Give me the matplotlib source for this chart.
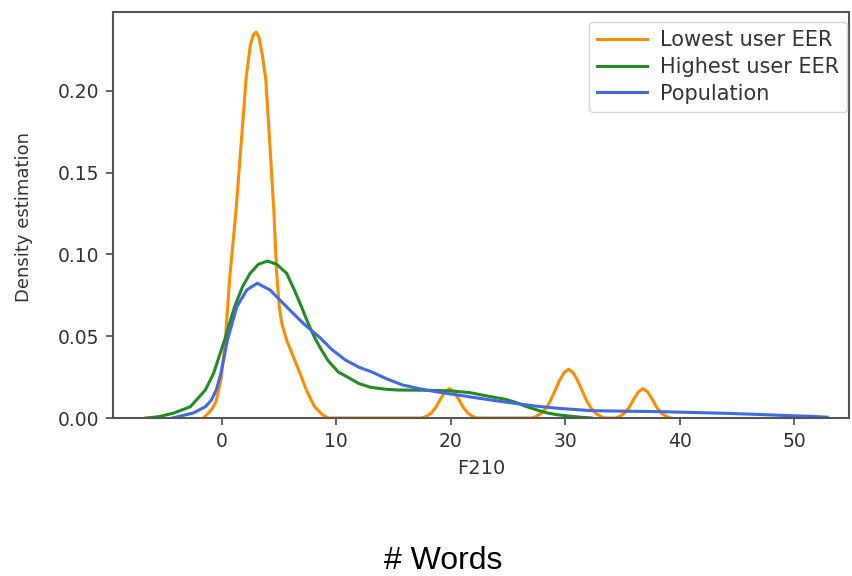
import matplotlib
matplotlib.use("Agg")
import matplotlib.pyplot as plt

# Density curves of feature F210 (number of words)
lowest_x = [-1.6, -1.3, -0.9, -0.5, -0.05, 0.3, 0.7, 1.0, 1.25, 1.7, 2.15, 2.5, 2.75,
            3.0, 3.25, 3.55, 3.85, 4.2, 4.55, 4.8, 5.03, 5.25, 5.67, 6.25, 6.83,
            7.4, 8.1, 8.8, 9.3,
            17.5, 17.9, 18.3, 18.7, 19.1, 19.5, 19.9, 20.3, 20.7, 21.1, 21.5, 21.9, 22.3,
            27.1, 27.5, 27.9, 28.3, 28.7, 29.1, 29.5, 29.9, 30.3, 30.7, 31.1, 31.5,
            31.9, 32.3, 32.7, 33.1, 33.5,
            34.4, 34.8, 35.2, 35.6, 36.0, 36.4, 36.8, 37.2, 37.6, 38.0, 38.4, 38.8, 39.2]
lowest_y = [0.0, 0.002, 0.005, 0.010, 0.024, 0.046, 0.086, 0.108, 0.127, 0.168, 0.209,
            0.228, 0.234, 0.236, 0.233, 0.222, 0.207, 0.168, 0.127, 0.0887, 0.068,
            0.058, 0.0477, 0.0375, 0.0275, 0.017, 0.007, 0.002, 0.0,
            0.0, 0.0011, 0.0030, 0.0065, 0.0115, 0.0160, 0.0180, 0.0160, 0.0115,
            0.0065, 0.0030, 0.0011, 0.0,
            0.0, 0.0010, 0.0028, 0.0057, 0.0103, 0.0165, 0.0228, 0.0277, 0.0298,
            0.0277, 0.0228, 0.0165, 0.0103, 0.0057, 0.0028, 0.0010, 0.0,
            0.0, 0.0011, 0.0030, 0.0065, 0.0115, 0.0160, 0.0180, 0.0160, 0.0115,
            0.0065, 0.0030, 0.0011, 0.0]

highest_x = [-6.6, -5.5, -4.2, -2.74, -1.43, -0.71, 0.25, 1.12, 1.8, 2.48, 3.2, 4.0,
             4.8, 5.67, 6.3, 6.97, 7.6, 8.13, 8.6, 9.3, 10.2, 11.0, 12.0, 13.0, 14.4,
             15.5, 17.3, 19.0, 20.2, 21.7, 23.0, 24.8, 25.7, 26.5, 27.4, 28.3, 29.3,
             30.3, 31.3, 32.3]
highest_y = [0.0, 0.0008, 0.003, 0.0069, 0.0171, 0.0273, 0.0477, 0.068, 0.080, 0.0885,
             0.094, 0.096, 0.094, 0.0885, 0.079, 0.068, 0.057, 0.049, 0.043, 0.035,
             0.028, 0.025, 0.021, 0.0188, 0.0175, 0.0171, 0.0170, 0.0168, 0.0165,
             0.0155, 0.0137, 0.0114, 0.0095, 0.0073, 0.0052, 0.0033, 0.0020, 0.0012,
             0.0005, 0.0]

population_x = [-4.3, -3.6, -2.5, -1.43, -0.9, -0.48, -0.07, 0.5, 1.32, 2.19, 3.1, 4.22,
                5.67, 7.1, 8.6, 9.6, 10.8, 12.0, 13.0, 14.4, 15.8, 17.2, 18.7, 20.2,
                21.6, 24.5, 27.4, 29.4, 32.3, 35.0, 38.1, 41.0, 43.9, 46.8, 49.7, 51.5,
                52.9]
population_y = [0.0, 0.0012, 0.003, 0.0069, 0.011, 0.0171, 0.0273, 0.0477, 0.068,
                0.0783, 0.0824, 0.0783, 0.068, 0.058, 0.049, 0.042, 0.0355, 0.031,
                0.0285, 0.024, 0.0202, 0.018, 0.0161, 0.0145, 0.013, 0.010, 0.0073,
                0.0059, 0.0045, 0.0042, 0.0039, 0.0034, 0.0029, 0.0022, 0.0014,
                0.0010, 0.0005]

series_labels = ["Lowest user EER", "Highest user EER", "Population"]
x_ticks = [0, 10, 20, 30, 40, 50]
y_ticks = [0.00, 0.05, 0.10, 0.15, 0.20]

text_color = "#333333"
spine_color = "#555555"

fig = plt.figure(figsize=(8.52, 5.76), dpi=100)
ax = fig.add_axes([0.1326, 0.2743, 0.8639, 0.7049])

ax.plot(lowest_x, lowest_y, color="darkorange", lw=2.2, label=series_labels[0])
ax.plot(highest_x, highest_y, color="forestgreen", lw=2.2, label=series_labels[1])
ax.plot(population_x, population_y, color="royalblue", lw=2.2, label=series_labels[2])

ax.set_xlim(-9.5, 54.8)
ax.set_ylim(0, 0.2483)
ax.set_xticks(x_ticks)
ax.set_yticks(y_ticks)
ax.set_yticklabels([f"{v:.2f}" for v in y_ticks])

for sp in ax.spines.values():
    sp.set_color(spine_color)
    sp.set_linewidth(1.5)
ax.tick_params(axis="both", labelsize=13.5, colors=spine_color, labelcolor=text_color,
               length=5, width=1.3, pad=5)

ax.set_xlabel("F210", fontsize=14, color=text_color, labelpad=6)
ax.set_ylabel("Density estimation", fontsize=13, color=text_color)
ax.yaxis.set_label_coords(-0.109, 0.494)

leg = ax.legend(loc="upper right", bbox_to_anchor=(0.9941, 0.9618),
                bbox_transform=fig.transFigure, borderaxespad=0, fontsize=15,
                handlelength=2.4, handletextpad=0.6, labelspacing=0.32,
                frameon=True, fancybox=True)
leg.get_frame().set_edgecolor("#cccccc")
for t in leg.get_texts():
    t.set_color(text_color)

fig.text(0.5205, 0.013, "# Words", fontsize=23, family="Liberation Sans",
         color="black", ha="center", va="baseline")

fig.savefig("out.png", dpi=100)
